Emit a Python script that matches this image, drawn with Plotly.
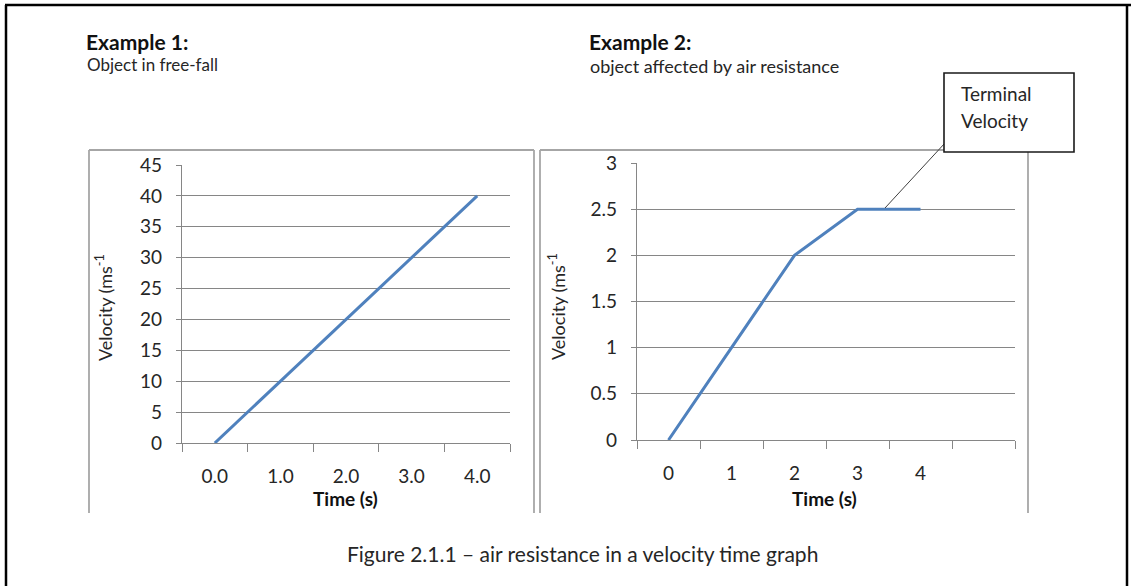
import plotly.graph_objects as go

# ---------------- data ----------------
time1_labels = ["0.0", "1.0", "2.0", "3.0", "4.0"]
velocity1 = [0, 10, 20, 30, 40]

time2_labels = ["0", "1", "2", "3", "4", " "]
velocity2 = [0, 1, 2, 2.5, 2.5]

y1_ticks = [0, 5, 10, 15, 20, 25, 30, 35, 40, 45]
y2_ticks = [0, 0.5, 1, 1.5, 2, 2.5, 3]
y2_ticktext = ["0", "0.5", "1", "1.5", "2", "2.5", "3"]

W, H = 1131, 586
FONT = "Lato"
LINE_BLUE = "#4F81BD"
GRID = "#868686"
TXT = "#262626"


def px(x):
    return x / W


def py(y):
    return 1 - y / H


fig = go.Figure()

fig.add_trace(go.Scatter(
    x=list(range(len(velocity1))), y=velocity1, mode="lines",
    line=dict(color=LINE_BLUE, width=3), xaxis="x", yaxis="y",
    showlegend=False, hoverinfo="skip"))
fig.add_trace(go.Scatter(
    x=list(range(len(velocity2))), y=velocity2, mode="lines",
    line=dict(color=LINE_BLUE, width=3), xaxis="x2", yaxis="y2",
    showlegend=False, hoverinfo="skip"))


def xaxis_cfg(labels, x0, x1, anchor):
    n = len(labels)
    return dict(
        domain=[px(x0), px(x1)], anchor=anchor, automargin=False,
        range=[-0.5, n - 0.5], tickmode="array",
        tickvals=list(range(n)), ticktext=labels,
        ticks="", showgrid=False, zeroline=False,
        showline=True, linecolor=GRID, linewidth=1.4,
        tickfont=dict(family=FONT, size=19, color=TXT),
        ticklabelstandoff=16,
        minor=dict(tickmode="array", tickvals=[i - 0.5 for i in range(n + 1)],
                   ticks="outside", ticklen=8, tickcolor=GRID, tickwidth=1.4,
                   showgrid=False),
        fixedrange=True)


def yaxis_cfg(ticks, ticktext, y_bottom, y_top, rng, anchor):
    return dict(
        domain=[py(y_bottom), py(y_top)], anchor=anchor, range=rng,
        automargin=False,
        tickmode="array", tickvals=ticks, ticktext=ticktext,
        ticks="outside", ticklen=5, tickcolor=GRID, tickwidth=1.4,
        showgrid=True, gridcolor=GRID, gridwidth=1.4, zeroline=False,
        showline=True, linecolor=GRID, linewidth=1.4,
        tickfont=dict(family=FONT, size=19, color=TXT),
        ticklabelstandoff=10,
        fixedrange=True)


fig.update_layout(
    width=W, height=H,
    margin=dict(l=0, r=0, t=0, b=0, autoexpand=False),
    paper_bgcolor="white", plot_bgcolor="white",
    xaxis=xaxis_cfg(time1_labels, 182, 510, "y"),
    yaxis=yaxis_cfg(y1_ticks, [str(v) for v in y1_ticks], 443, 165, [0, 45], "x"),
    xaxis2=xaxis_cfg(time2_labels, 637, 1015, "y2"),
    yaxis2=yaxis_cfg(y2_ticks, y2_ticktext, 440, 163, [0, 3], "x2"),
    showlegend=False,
)

shapes = []
# outer black frame (top, left, right)
shapes.append(dict(type="line", xref="paper", yref="paper",
                   x0=px(5), x1=px(1131), y0=py(5), y1=py(5),
                   line=dict(color="black", width=2.5)))
shapes.append(dict(type="line", xref="paper", yref="paper",
                   x0=px(6), x1=px(6), y0=py(5), y1=py(586),
                   line=dict(color="black", width=2.5)))
shapes.append(dict(type="line", xref="paper", yref="paper",
                   x0=px(1127), x1=px(1127), y0=py(5), y1=py(586),
                   line=dict(color="black", width=2.5)))

# chart frames (left, top, right; bottom cut off)
for (l, r) in [(89, 534), (540, 1028)]:
    for seg in [((l, 150), (l, 513)), ((l, 150), (r, 150)), ((r, 150), (r, 513))]:
        (a, b), (c, d) = seg
        shapes.append(dict(type="line", xref="paper", yref="paper",
                           x0=px(a), x1=px(c), y0=py(b), y1=py(d),
                           line=dict(color="#A6A6A6", width=1.8)))

# callout connector and box
shapes.append(dict(type="line", xref="paper", yref="paper",
                   x0=px(885), y0=py(208), x1=px(945), y1=py(143),
                   line=dict(color="#404040", width=1)))
shapes.append(dict(type="rect", xref="paper", yref="paper",
                   x0=px(944), x1=px(1074), y0=py(152), y1=py(73),
                   fillcolor="white", line=dict(color="#1a1a1a", width=1.6)))
fig.update_layout(shapes=shapes)

ann = []


def text(x, y, s, size, bold=False, xanchor="left", angle=0, color=TXT):
    ann.append(dict(xref="paper", yref="paper", x=px(x), y=py(y),
                    text=("<b>%s</b>" % s) if bold else s, showarrow=False,
                    xanchor=xanchor, yanchor="middle", textangle=angle,
                    font=dict(family=FONT, size=size, color=color)))


text(84, 42, "Example 1:", 21, bold=True, color="#111")
text(85, 65, "Object in free-fall", 17)
text(587, 42, "Example 2:", 21, bold=True, color="#111")
text(588, 66, "object affected by air resistance", 18)
text(345, 498, "Time (s)", 19, bold=True, xanchor="center", color="#111")
text(824, 498, "Time (s)", 19, bold=True, xanchor="center", color="#111")
text(104, 308, "Velocity (ms<sup>-1</sup>", 18, xanchor="center", angle=-90)
text(557, 307, "Velocity (ms<sup>-1</sup>", 18, xanchor="center", angle=-90)
text(959, 93, "Terminal", 19)
text(959, 121, "Velocity", 19)
text(582, 553, "Figure 2.1.1 – air resistance in a velocity time graph", 21,
     xanchor="center")
fig.update_layout(annotations=ann)

fig.write_html("out.html")
